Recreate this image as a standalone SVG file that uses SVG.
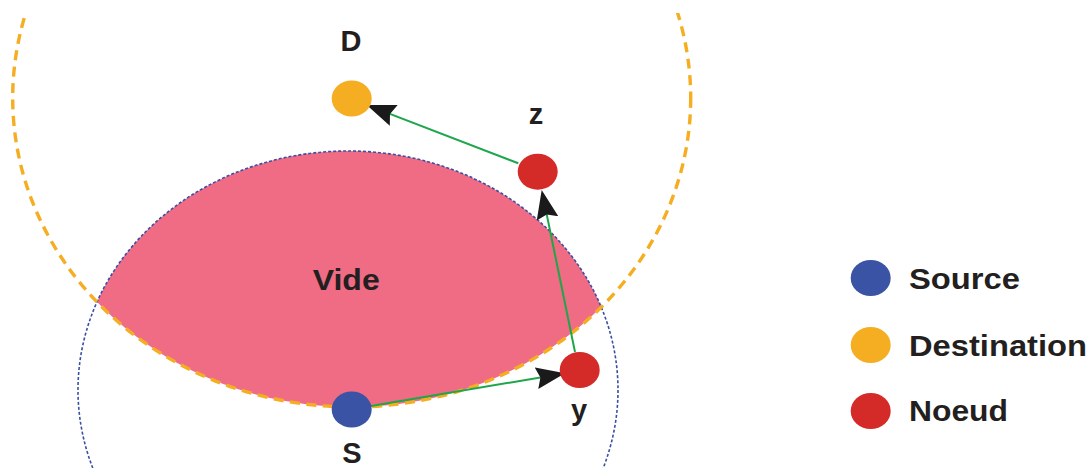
<svg xmlns="http://www.w3.org/2000/svg" width="1091" height="468" viewBox="0 0 1091 468">
<style>
.lbl{font-family:"Liberation Sans",Arial,sans-serif;font-weight:bold;font-size:29px;fill:#231F20}
.conn{stroke:#1DA64A;stroke-width:2;fill:none;marker-end:url(#arr)}
.src{fill:#3A53A4}
.dst{fill:#F5AE21}
.nod{fill:#D42A28}
</style>
<defs>
<marker id="arr" markerUnits="userSpaceOnUse" viewBox="0 0 29 23" markerWidth="29" markerHeight="23" refX="25" refY="11.5" orient="auto">
<path d="M0,0.5 L29,11.5 L0,22.5 L4,11.5 Z" fill="#1A1A1A"/>
</marker>
<clipPath id="orangeClip"><ellipse cx="351.7" cy="98" rx="339" ry="309"/></clipPath>
<clipPath id="frameClip"><rect x="0" y="13" width="1091" height="455"/></clipPath>
</defs>
<rect width="1091" height="468" fill="#FFFFFF"/>
<g id="vide">
<ellipse cx="348" cy="390" rx="270" ry="239" fill="#F06B84" clip-path="url(#orangeClip)"/>
<text class="lbl" x="312.7" y="290" textLength="67" lengthAdjust="spacingAndGlyphs">Vide</text>
</g>
<g id="ranges" clip-path="url(#frameClip)">
<ellipse cx="348" cy="390" rx="270" ry="239" fill="none" stroke="#3B4FA3" stroke-width="1.6" stroke-dasharray="3 2"/>
<ellipse cx="351.7" cy="98" rx="339" ry="309" fill="none" stroke="#F5AE21" stroke-width="3.4" stroke-dasharray="10 6.5"/>
</g>
<g id="connectors">
<line class="conn" x1="371" y1="406" x2="561.1" y2="374"/>
<line class="conn" x1="575" y1="352" x2="542.5" y2="193.9"/>
<line class="conn" x1="518.3" y1="163.3" x2="370.4" y2="106.4"/>
</g>
<g id="node-S">
<ellipse class="src" cx="351.7" cy="409.5" rx="20" ry="18"/>
<text class="lbl" x="352" y="463" text-anchor="middle">S</text>
</g>
<g id="node-D">
<ellipse class="dst" cx="351.7" cy="98.5" rx="20" ry="18"/>
<text class="lbl" x="351" y="51" text-anchor="middle">D</text>
</g>
<g id="node-z">
<ellipse class="nod" cx="537.7" cy="171.7" rx="20" ry="18"/>
<text class="lbl" x="536" y="124" text-anchor="middle">z</text>
</g>
<g id="node-y">
<ellipse class="nod" cx="579.7" cy="370" rx="20" ry="18"/>
<text class="lbl" x="579" y="420" text-anchor="middle">y</text>
</g>
<g id="legend">
<ellipse class="src" cx="870.7" cy="278" rx="20" ry="18"/>
<text class="lbl" x="909" y="288.5" textLength="111" lengthAdjust="spacingAndGlyphs">Source</text>
<ellipse class="dst" cx="870.7" cy="345" rx="20" ry="18"/>
<text class="lbl" x="909" y="355.5" textLength="178" lengthAdjust="spacingAndGlyphs">Destination</text>
<ellipse class="nod" cx="870.7" cy="411" rx="20" ry="18"/>
<text class="lbl" x="909" y="421" textLength="99" lengthAdjust="spacingAndGlyphs">Noeud</text>
</g>
</svg>
